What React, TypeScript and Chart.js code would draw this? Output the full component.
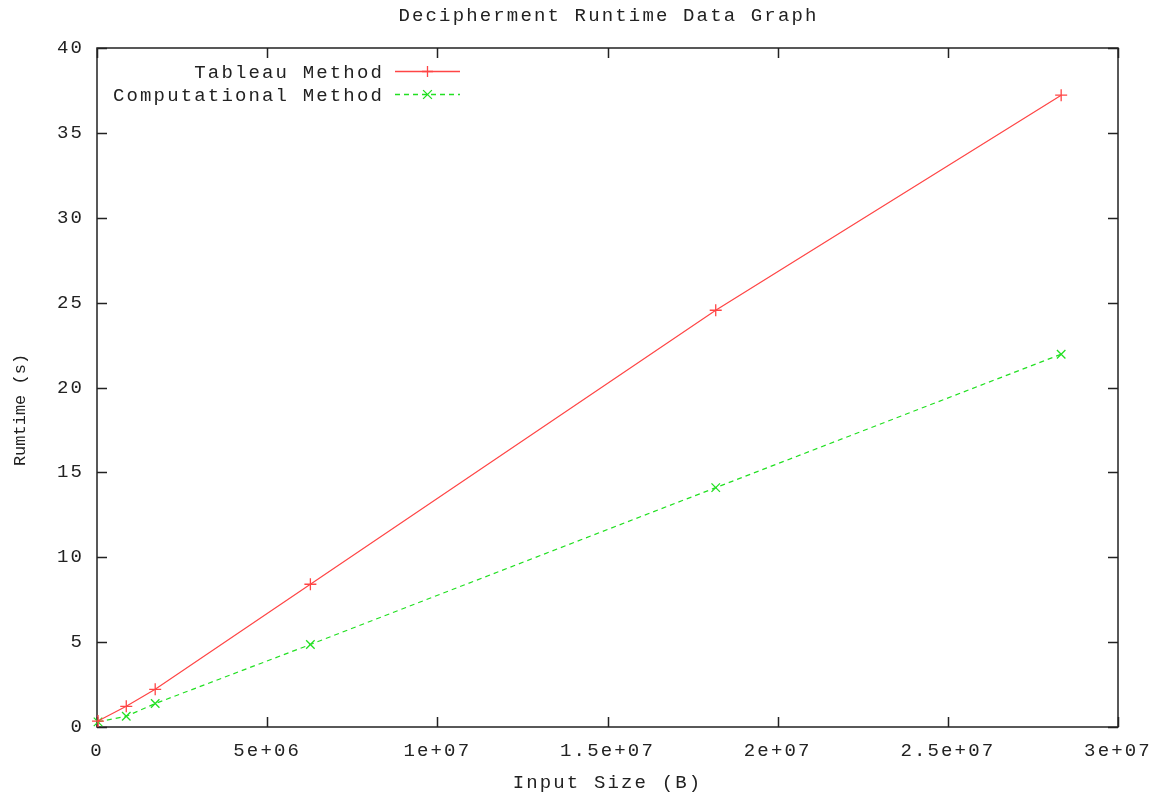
import React, { useEffect, useRef } from "react";
import { Chart, registerables } from "chart.js";

Chart.register(...registerables);

const inputSizes = [3e4, 0.86e6, 1.71e6, 6.27e6, 18.18e6, 28.33e6];
const tableauRuntime = [0.35, 1.22, 2.22, 8.41, 24.55, 37.22];
const computationalRuntime = [0.3, 0.63, 1.38, 4.86, 14.1, 21.96];
const seriesLabels = ["Tableau Method", "Computational Method"];
const titleText = "Decipherment Runtime Data Graph";
const xTitle = "Input Size (B)";
const yTitle = "Rumtime (s)";
const xMin = 0, xMax = 3e7, xStep = 5e6;
const yMin = 0, yMax = 40, yStep = 5;

const FONT_FAMILY = "'Liberation Mono', 'DejaVu Sans Mono', monospace";
const FONT = { family: FONT_FAMILY, size: 19, weight: "normal" as const };
const SPACING = "2.15px";
const TEXT_COLOR = "#222";
const RED = "#ff4545";
const GREEN = "#22e022";
const COLORS = [RED, GREEN];
const DASHES = [[], [5, 4]];
const MARKERS = ["cross", "crossRot"];

function fmtX(v: number): string {
  if (v === 0) return "0";
  return v.toExponential().replace(/e\+(\d)$/, "e+0$1");
}

const spacingPlugin = {
  id: "spacing",
  beforeUpdate(chart: any) { chart.ctx.letterSpacing = SPACING; },
  beforeLayout(chart: any) { chart.ctx.letterSpacing = SPACING; },
  beforeDraw(chart: any) { chart.ctx.letterSpacing = SPACING; },
};

function drawMarker(ctx: CanvasRenderingContext2D, style: string, cx: number, cy: number, r: number) {
  ctx.beginPath();
  if (style === "cross") {
    ctx.moveTo(cx - r, cy); ctx.lineTo(cx + r, cy);
    ctx.moveTo(cx, cy - r); ctx.lineTo(cx, cy + r);
  } else {
    const d = r * 0.8;
    ctx.moveTo(cx - d, cy - d); ctx.lineTo(cx + d, cy + d);
    ctx.moveTo(cx - d, cy + d); ctx.lineTo(cx + d, cy - d);
  }
  ctx.stroke();
}

const framePlugin = {
  id: "frame",
  beforeDatasetsDraw(chart: any) {
    const ctx = chart.ctx as CanvasRenderingContext2D;
    const { left, right, top, bottom } = chart.chartArea;
    const xs = chart.scales.x;
    const ys = chart.scales.y;
    ctx.save();
    ctx.strokeStyle = "#222";
    ctx.lineWidth = 1.5;
    ctx.setLineDash([]);
    ctx.strokeRect(left, top, right - left, bottom - top);
    const tl = 10;
    ctx.beginPath();
    xs.ticks.forEach((t: any) => {
      const p = Math.round(xs.getPixelForValue(t.value)) + 0.5;
      ctx.moveTo(p, bottom); ctx.lineTo(p, bottom - tl);
      ctx.moveTo(p, top); ctx.lineTo(p, top + tl);
    });
    ys.ticks.forEach((t: any) => {
      const p = Math.round(ys.getPixelForValue(t.value)) + 0.5;
      ctx.moveTo(left, p); ctx.lineTo(left + tl, p);
      ctx.moveTo(right, p); ctx.lineTo(right - tl, p);
    });
    ctx.stroke();

    // title centred over the plot
    ctx.fillStyle = TEXT_COLOR;
    ctx.font = `19px ${FONT_FAMILY}`;
    (ctx as any).letterSpacing = SPACING;
    ctx.textAlign = "center";
    ctx.textBaseline = "middle";
    ctx.fillText(titleText, (left + right) / 2 + 1, 16);

    // y-axis title
    ctx.save();
    (ctx as any).letterSpacing = "0px";
    ctx.font = `17px ${FONT_FAMILY}`;
    ctx.translate(20, 410);
    ctx.rotate(-Math.PI / 2);
    ctx.fillText(yTitle, 0, 0);
    ctx.restore();
    ctx.restore();
  },
  afterDatasetsDraw(chart: any) {
    const ctx = chart.ctx as CanvasRenderingContext2D;
    ctx.save();
    // legend (gnuplot style: text, then line sample with marker)
    ctx.font = `19px ${FONT_FAMILY}`;
    (ctx as any).letterSpacing = SPACING;
    ctx.textAlign = "right";
    ctx.textBaseline = "middle";
    seriesLabels.forEach((label, i) => {
      const y = 71.5 + i * 23;
      ctx.fillStyle = TEXT_COLOR;
      ctx.fillText(label, 384, y + 1);
      ctx.strokeStyle = COLORS[i];
      ctx.lineWidth = 1.3;
      ctx.setLineDash(DASHES[i]);
      ctx.beginPath();
      ctx.moveTo(395, y); ctx.lineTo(460, y);
      ctx.stroke();
      ctx.setLineDash([]);
      drawMarker(ctx, MARKERS[i], 427.5, y, 5.5);
    });
    ctx.restore();
  },
};

export default function App() {
  const ref = useRef<HTMLCanvasElement | null>(null);
  useEffect(() => {
    if (!ref.current) return;
    const mk = (i: number, values: number[]) => ({
      label: seriesLabels[i],
      data: inputSizes.map((x, k) => ({ x, y: values[k] })),
      borderColor: COLORS[i],
      backgroundColor: COLORS[i],
      borderWidth: 1.2,
      borderDash: DASHES[i],
      pointStyle: MARKERS[i],
      pointRadius: 6,
      pointBorderWidth: 1.3,
      pointBorderColor: COLORS[i],
      pointBackgroundColor: COLORS[i],
      fill: false,
      tension: 0,
    });
    const chart = new Chart(ref.current, {
      type: "line",
      data: {
        datasets: [mk(0, tableauRuntime), mk(1, computationalRuntime)],
      },
      options: {
        responsive: false,
        animation: false,
        devicePixelRatio: 1,
        clip: false,
        layout: { padding: { left: 0, right: 43, top: 48, bottom: 0 } },
        plugins: {
          legend: { display: false },
          tooltip: { enabled: false },
          title: { display: false },
        },
        scales: {
          x: {
            type: "linear",
            min: xMin,
            max: xMax,
            ticks: {
              stepSize: xStep,
              callback: (v: any) => fmtX(Number(v)),
              color: TEXT_COLOR,
              font: FONT,
              padding: 13,
              maxRotation: 0,
              autoSkip: false,
            },
            grid: { display: false, drawTicks: false },
            border: { display: false },
            title: {
              display: true,
              text: xTitle,
              color: TEXT_COLOR,
              font: FONT,
              padding: { top: 0, bottom: -1 },
            },
            afterFit: (s: any) => { s.height = 66; s.paddingLeft = 0; s.paddingRight = 0; },
          },
          y: {
            type: "linear",
            min: yMin,
            max: yMax,
            ticks: {
              stepSize: yStep,
              color: TEXT_COLOR,
              font: FONT,
              padding: 13,
            },
            grid: { display: false, drawTicks: false },
            border: { display: false },
            afterFit: (s: any) => { s.width = 97; s.paddingTop = 0; s.paddingBottom = 0; },
          },
        },
      } as any,
      plugins: [spacingPlugin, framePlugin],
    });
    return () => chart.destroy();
  }, []);
  return (
    <div style={{ position: "absolute", left: 0, top: 0, width: 1161, height: 793, background: "#fff" }}>
      <canvas ref={ref} width={1161} height={793} />
    </div>
  );
}
